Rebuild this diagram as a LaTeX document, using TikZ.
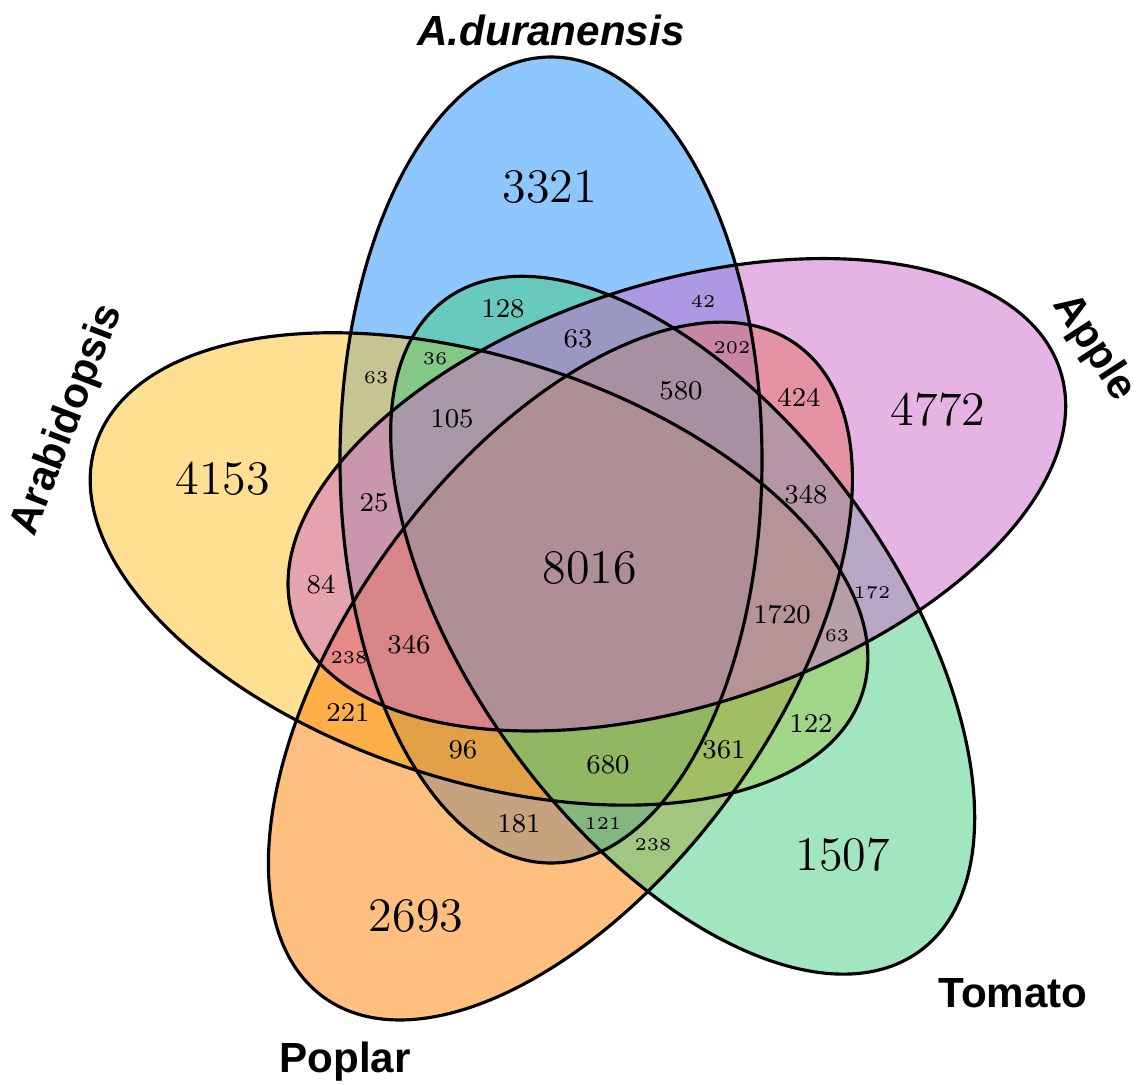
\documentclass[tikz,border=0pt]{standalone}
\usepackage{fontspec}
\usepackage{tikz}
\newfontfamily\labelfont{Liberation Sans}
\definecolor{cdura}{RGB}{30,144,255}
\definecolor{carab}{RGB}{255,193,37}
\definecolor{cpop}{RGB}{255,127,0}
\definecolor{ctom}{RGB}{67,205,128}
\definecolor{capp}{RGB}{205,105,201}
\tikzset{
  setfill/.style={fill opacity=0.5},
  setline/.style={draw=black,line width=0.9pt},
  bignum/.style={font=\fontsize{13.7}{16}\selectfont,inner sep=0pt},
  midnum/.style={font=\fontsize{7.7}{9}\selectfont,inner sep=0pt},
  smallnum/.style={font=\fontsize{5.1}{6}\selectfont,inner sep=0pt},
  setname/.style={font=\labelfont\bfseries\fontsize{12}{14}\selectfont,inner sep=0pt},
}
\begin{document}
\begin{tikzpicture}
\useasboundingbox (0,0) rectangle (11.42,10.84);
\coordinate (mid) at (5.90,5.20);

% ================= five ellipses: fills first, then outlines =================
\foreach \ang/\col in {0/cdura,72/carab,144/cpop,216/ctom,288/capp}{
  \fill[\col,setfill,rotate around={\ang:(mid)}] (5.51,6.24) ellipse [x radius=2.11,y radius=4.03];
}
\foreach \ang in {0,72,144,216,288}{
  \draw[setline,rotate around={\ang:(mid)}] (5.51,6.24) ellipse [x radius=2.11,y radius=4.03];
}

% ================= set names =================
\node[setname,anchor=base] (dura) at (5.51,10.39) {\itshape A.duranensis};
\node[setname,rotate=69] (arab) at (0.68,6.64) {Arabidopsis};
\node[setname,rotate=-57] (apple) at (10.94,7.36) {Apple};
\node[setname,anchor=base] (tom) at (10.13,0.77) {Tomato};
\node[setname,anchor=base] (pop) at (3.45,0.12) {Poplar};

% ================= counts =================
\node[bignum] (n3321) at (5.50,8.97) {3321};
\node[bignum] (n4153) at (2.23,6.05) {4153};
\node[bignum] (n4772) at (9.38,6.74) {4772};
\node[bignum] (n1507) at (8.43,2.29) {1507};
\node[bignum] (n2693) at (4.16,1.68) {2693};
\node[bignum] (n8016) at (5.90,5.16) {8016};

\node[midnum] (n128) at (5.03,7.75) {128};
\node[midnum] (n63a) at (5.78,7.45) {63};
\node[midnum] (n424) at (7.99,6.87) {424};
\node[midnum] (n580) at (6.81,6.93) {580};
\node[midnum] (n105) at (4.52,6.65) {105};
\node[midnum] (n25) at (3.74,5.81) {25};
\node[midnum] (n84) at (3.21,4.99) {84};
\node[midnum] (n346) at (4.09,4.39) {346};
\node[midnum] (n348) at (8.06,5.89) {348};
\node[midnum] (n1720) at (7.82,4.69) {1720};
\node[midnum] (n221) at (3.48,3.72) {221};
\node[midnum] (n96) at (4.63,3.34) {96};
\node[midnum] (n680) at (6.08,3.19) {680};
\node[midnum] (n181) at (5.19,2.60) {181};
\node[midnum] (n361) at (7.24,3.34) {361};
\node[midnum] (n122) at (8.11,3.61) {122};

\node[smallnum] (n42) at (7.03,7.83) {42};
\node[smallnum] (n202) at (7.32,7.36) {202};
\node[smallnum] (n63b) at (3.76,7.06) {63};
\node[smallnum] (n36) at (4.35,7.25) {36};
\node[smallnum] (n238a) at (3.49,4.26) {238};
\node[smallnum] (n172) at (8.72,4.91) {172};
\node[smallnum] (n63c) at (8.37,4.48) {63};
\node[smallnum] (n121) at (6.03,2.60) {121};
\node[smallnum] (n238b) at (6.53,2.39) {238};

\end{tikzpicture}
\end{document}
